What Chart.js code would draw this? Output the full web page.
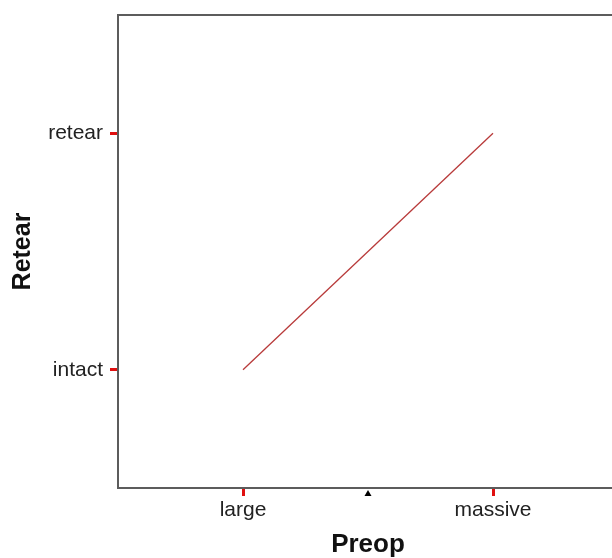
<!DOCTYPE html>
<html>
<head>
<meta charset="utf-8">
<script src="https://cdn.jsdelivr.net/npm/chart.js@4/dist/chart.umd.min.js"></script>
<style>
html,body{margin:0;padding:0;background:#fff;overflow:hidden;width:612px;height:558px;}
#wrap{position:absolute;left:0;top:0;width:630px;height:558px;}
</style>
</head>
<body>
<div id="wrap"><canvas id="c" width="630" height="558"></canvas></div>
<script>
// Data
const xCategories = ['large', 'massive'];
const yCategories = ['intact', 'retear'];
const seriesX = ['large', 'massive'];
const seriesY = ['intact', 'retear'];
const markerX = [1.5];   // small reference marker on the x axis (between categories)

const xPos = c => xCategories.indexOf(c) + 1;
const yPos = c => yCategories.indexOf(c) + 1;

const lineData = seriesX.map((c, i) => ({x: xPos(c), y: yPos(seriesY[i])}));

const axisColor = '#5c5c5c';
const tickRed = '#e01010';

const extras = {
  id: 'extras',
  afterDraw(chart) {
    const {ctx, chartArea, scales} = chart;
    ctx.save();
    // top frame line
    ctx.strokeStyle = axisColor;
    ctx.lineWidth = 2;
    ctx.beginPath();
    ctx.moveTo(chartArea.left - 1, chartArea.top);
    ctx.lineTo(chartArea.right + 1, chartArea.top);
    ctx.stroke();
    // small triangle marker below the x axis
    ctx.fillStyle = '#000';
    markerX.forEach(v => {
      const px = scales.x.getPixelForValue(v);
      const py = chartArea.bottom + 2;
      ctx.beginPath();
      ctx.moveTo(px, py);
      ctx.lineTo(px + 3.5, py + 6);
      ctx.lineTo(px - 3.5, py + 6);
      ctx.closePath();
      ctx.fill();
    });
    ctx.restore();
  }
};

new Chart(document.getElementById('c'), {
  type: 'scatter',
  data: {
    datasets: [
      {
        data: lineData,
        showLine: true,
        borderColor: '#b83a3a',
        borderWidth: 1.3,
        pointRadius: 0,
        fill: false
      }
    ]
  },
  plugins: [extras],
  options: {
    responsive: false,
    animation: false,
    events: [],
    layout: {padding: {top: 15, right: 12, left: 0, bottom: 0}},
    plugins: {legend: {display: false}, tooltip: {enabled: false}},
    scales: {
      x: {
        type: 'linear',
        min: 0.5,
        max: 2.5,
        afterBuildTicks: s => { s.ticks = xCategories.map((c, i) => ({value: i + 1})); },
        afterFit: s => { s.height = 70; s.paddingLeft = 0; s.paddingRight = 0; },
        ticks: {
          callback: v => xCategories[v - 1] || '',
          color: '#222',
          font: {family: '"Liberation Sans", Arial, sans-serif', size: 21},
          padding: 2,
          maxRotation: 0,
          autoSkip: false
        },
        grid: {
          drawOnChartArea: false,
          drawTicks: true,
          tickLength: 8,
          tickColor: tickRed,
          tickWidth: 3
        },
        border: {display: true, color: axisColor, width: 2},
        title: {
          display: true,
          text: 'Preop',
          color: '#111',
          font: {family: '"Liberation Sans", Arial, sans-serif', size: 26, weight: 'bold', lineHeight: 1},
          padding: {top: 0, bottom: 0}
        }
      },
      y: {
        type: 'linear',
        min: 0.5,
        max: 2.5,
        afterBuildTicks: s => { s.ticks = yCategories.map((c, i) => ({value: i + 1})); },
        afterFit: s => { s.width = 118; s.paddingTop = 0; s.paddingBottom = 0; },
        ticks: {
          callback: v => yCategories[v - 1] || '',
          color: '#222',
          font: {family: '"Liberation Sans", Arial, sans-serif', size: 21},
          padding: 7,
          autoSkip: false
        },
        grid: {
          drawOnChartArea: false,
          drawTicks: true,
          tickLength: 8,
          tickColor: tickRed,
          tickWidth: 3
        },
        border: {display: true, color: axisColor, width: 2},
        title: {
          display: true,
          text: 'Retear',
          color: '#111',
          font: {family: '"Liberation Sans", Arial, sans-serif', size: 25, weight: 'bold', lineHeight: 1},
          padding: {top: 11, bottom: 0}
        }
      }
    }
  }
});
</script>
</body>
</html>
